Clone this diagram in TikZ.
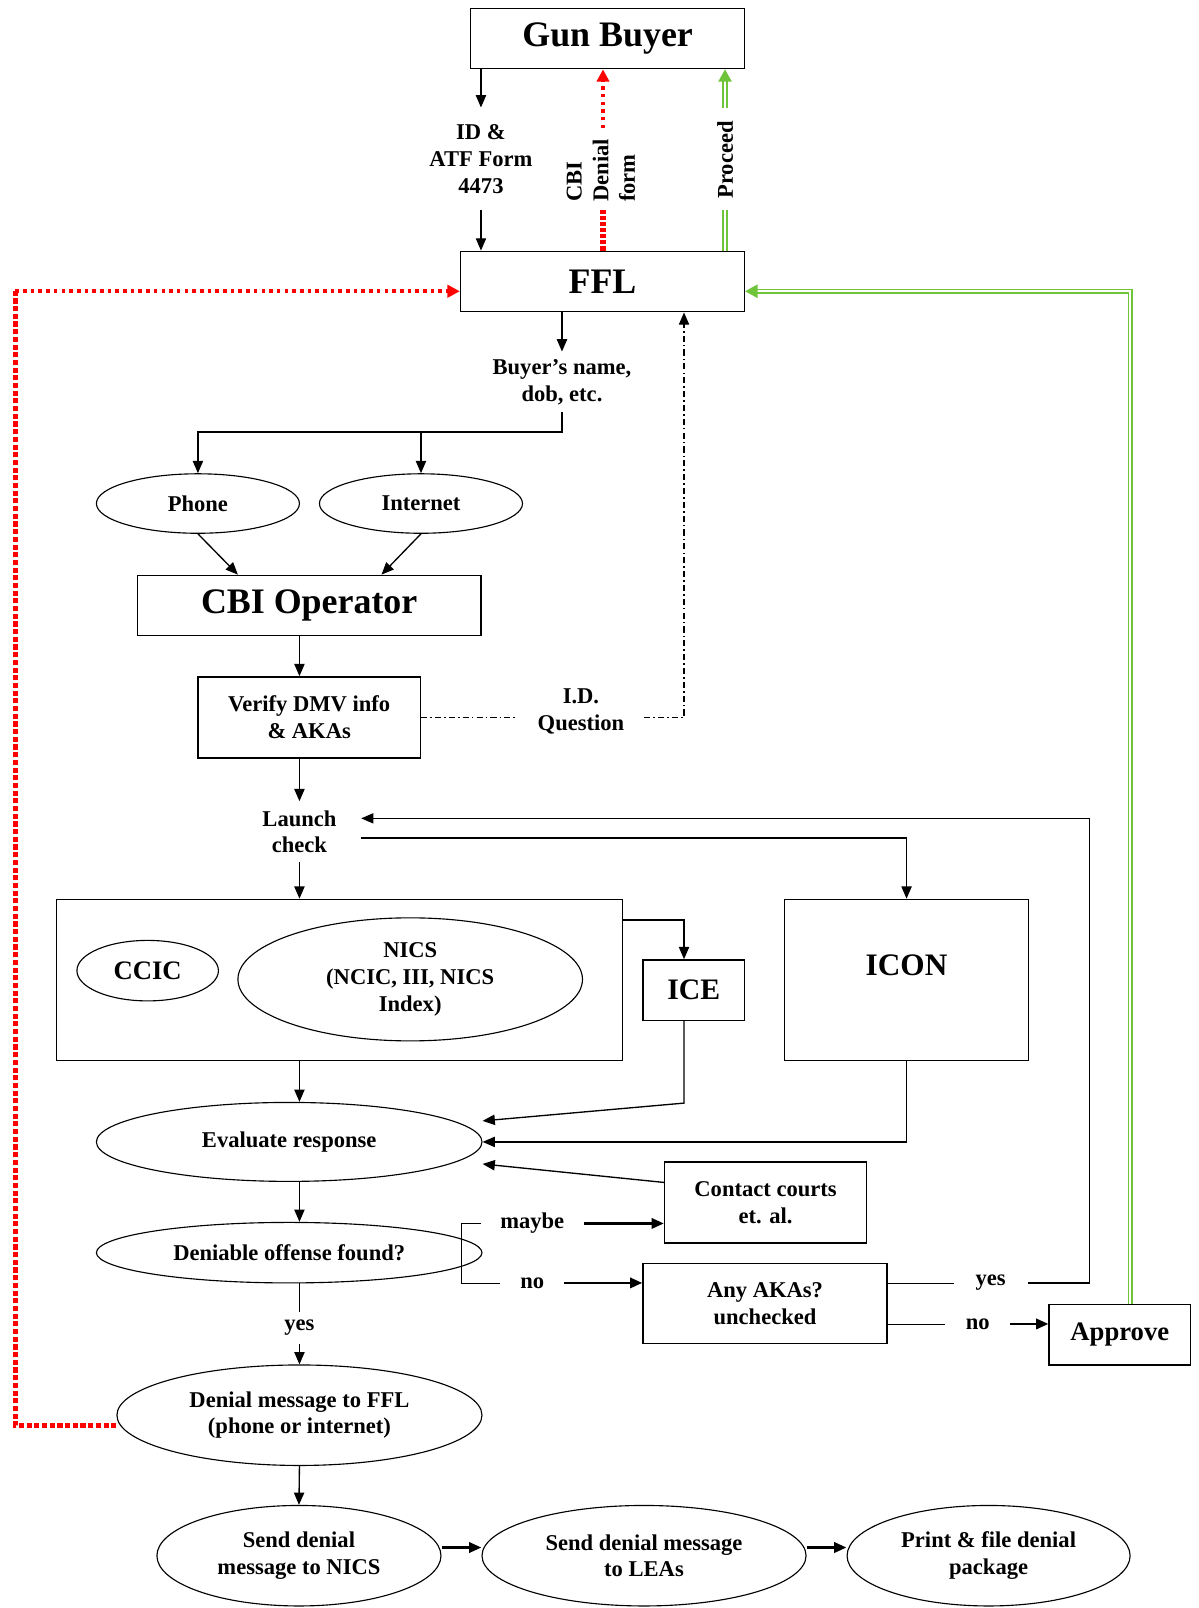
\documentclass[tikz,border=0pt]{standalone}
\usepackage{fontspec}
\setmainfont{Liberation Serif}
\usepackage{tikz}
\usetikzlibrary{arrows.meta, positioning, shapes.geometric, calc}
\definecolor{denyred}{RGB}{255,0,0}
\definecolor{okgreen}{RGB}{112,196,58}
\newcommand\smlfont{\fontsize{22}{26}\selectfont\bfseries}
\newcommand\lrgfont{\fontsize{35}{40}\selectfont\bfseries}
\newcommand\midfont{\fontsize{26}{30}\selectfont\bfseries}

\begin{document}
\begin{tikzpicture}[x=1pt, y=-1pt,
    box/.style={rectangle, draw, line width=1.3pt, inner sep=0pt, align=center, font=\smlfont},
    ell/.style={ellipse, draw, line width=1.1pt, inner sep=0pt, align=center, font=\smlfont},
    txt/.style={inner sep=0pt, align=center, font=\smlfont},
    arr/.style={-{Triangle[length=12pt,width=10pt]}, line width=1.3pt},
    fat/.style={arr, line width=2.6pt},
    dashdot/.style={line width=1.2pt, dash pattern=on 6pt off 3pt on 1.5pt off 3pt},
    reddot/.style={draw=denyred, line width=3.5pt, dash pattern=on 3.5pt off 4pt},
    redfat/.style={draw=denyred, line width=5.5pt, dash pattern=on 5pt off 2.5pt},
    redtip/.style={-{Triangle[length=12pt,width=12pt]}},
    grn/.style={draw=okgreen, double=white, double distance=2pt, line width=1.5pt},
    grntip/.style={-{Triangle[length=12pt,width=13pt]}}]
    \useasboundingbox (0,0) rectangle (1169,1568);
    \node[box, minimum width=267pt, minimum height=59pt, font=\lrgfont] (buyer) at (592.5,37.5) {Gun Buyer};
    \node[box, minimum width=277pt, minimum height=59pt, font=\lrgfont] (ffl) at (587.5,274.5) {FFL};
    \node[txt, minimum height=100pt] (idform) at (469,155) {ID \&\\ATF Form\\4473};
    \node[txt, rotate=90, anchor=west, align=left] (cbiform) at (586,197) {CBI\\Denial\\form};
    \node[txt, rotate=90] (proceed) at (707,156) {Proceed};
    \coordinate (redlow) at (588,205); \coordinate (redhigh) at (588,125);
    \coordinate (grnlow) at (707,205); \coordinate (grnhigh) at (707,105);
    \coordinate (redleft) at (15,284);
    \node[txt, minimum height=59pt] (bname) at (548,372.5) {Buyer’s name,\\dob, etc.};
    \node[ell, minimum width=198pt, minimum height=58pt] (phone) at (193,491) {Phone};
    \node[ell, minimum width=198pt, minimum height=58pt] (inet) at (410.5,491) {Internet};
    \node[box, minimum width=335pt, minimum height=59pt, font=\lrgfont] (cbi) at (301.5,590.5) {CBI Operator};
    \node[box, minimum width=217pt, minimum height=79pt] (verify) at (301.5,699.5) {Verify DMV info\\\& AKAs};
    \node[txt, minimum width=123pt] (idq) at (566.5,694) {I.D.\\Question};
    \node[txt, minimum width=120pt, minimum height=59pt] (launch) at (292,811) {Launch\\check};
    \node[box, minimum width=552pt, minimum height=157pt] (checks) at (331,955.5) {};
    \node[ell, minimum width=138pt, minimum height=59pt, font=\midfont] (ccic) at (144,946.5) {CCIC};
    \node[ell, minimum width=336pt, minimum height=120pt] (nics) at (400,955) {NICS\\(NCIC, III, NICS\\Index)};
    \node[box, minimum width=99pt, minimum height=59pt, font=\fontsize{29}{33}\selectfont\bfseries] (ice) at (676.5,965.5) {ICE};
    \node[box, minimum width=238pt, minimum height=157pt] (icon) at (884,955.5) {};
    \node[txt, font=\fontsize{30.5}{35}\selectfont\bfseries] (icontext) at (884,941) {ICON};
    \node[ell, minimum width=376pt, minimum height=77pt] (eval) at (282,1113.5) {Evaluate response};
    \node[box, minimum width=197pt, minimum height=79pt] (courts) at (746.5,1172.5) {Contact courts\\et. al.};
    \node[ell, minimum width=376pt, minimum height=59pt] (deny) at (282,1221.5) {Deniable offense found?};
    \node[txt, minimum width=100pt] (maybe) at (519,1193) {maybe};
    \node[txt, minimum width=62pt] (nolbl) at (519,1251) {no};
    \node[box, minimum width=238pt, minimum height=78pt] (aka) at (746,1271) {Any AKAs?\\unchecked};
    \node[txt, minimum width=72pt] (akayes) at (966,1251) {yes};
    \node[txt, minimum width=63pt] (akano) at (953.5,1291) {no};
    \node[box, minimum width=138pt, minimum height=59pt, font=\midfont] (approve) at (1092,1301.5) {Approve};
    \node[txt, minimum height=30pt] (dyes) at (292,1295) {yes};
    \node[ell, minimum width=356pt, minimum height=98pt] (denial) at (292,1380) {Denial message to FFL\\(phone or internet)};
    \node[ell, minimum width=277pt, minimum height=98pt] (sendnics) at (291.5,1517) {Send denial\\message to NICS};
    \node[ell, minimum width=316pt, minimum height=98pt] (sendlea) at (628,1517) {Send denial message\\to LEAs};
    \node[ell, minimum width=276pt, minimum height=98pt] (printpkg) at (964,1517) {Print \& file denial\\package};
    \draw[arr] (buyer.south -| idform) -- (idform.north); \draw[arr] (idform.south) -- (ffl.north -| idform);
    \draw[redfat, dash pattern=on 4pt off 2pt] (ffl.north -| redlow) -- (redlow); \draw[reddot, redtip] (redhigh) -- (buyer.south -| redhigh);
    \draw[grn] (ffl.north -| grnlow) -- (grnlow); \draw[grn, grntip] (grnhigh) -- (buyer.south -| grnhigh);
    \draw[arr] (ffl.south -| bname) -- (bname.north);
    \draw[arr] (bname.south) -- ++(0,19) -| (phone.north); \draw[arr] (bname.south) -- ++(0,19) -| (inet.north);
    \draw[arr] (phone.south) -- ([xshift=-69.5pt]cbi.north); \draw[arr] (inet.south) -- ([xshift=70.5pt]cbi.north);
    \draw[arr] (cbi.south -| launch) -- (verify.north -| launch); \draw[arr] (verify.south -| launch) -- (launch.north);
    \draw[dashdot] (verify.east) -- (verify.east -| idq.west);
    \draw[dashdot, arr] (idq.east |- verify.east) -| ([xshift=79.5pt]ffl.south);
    \draw[arr] (launch.south) -- (checks.north -| launch);
    \draw[arr] ([yshift=-6pt]launch.east) -| (icon.north);
    \draw[arr] ([yshift=58.5pt]checks.east) -| ([xshift=-9.5pt]ice.north);
    \draw[arr] (checks.south -| launch) -- (eval.north -| launch);
    \draw[arr] ([xshift=-9.5pt]ice.south) -- ++(0,80) -- ([yshift=20.5pt]eval.east);
    \draw[arr] (icon.south) |- (eval.east);
    \draw[arr] ([yshift=19.5pt]courts.west) -- ([yshift=-21.5pt]eval.east);
    \draw[arr] (eval.south -| launch) -- (deny.north -| launch);
    \draw (maybe.west) -- ++(-19,0) |- (nolbl.west);
    \draw[fat] (maybe.east) -- (courts.west |- maybe.east); \draw[fat] (nolbl.east) -- (aka.west |- nolbl.east);
    \draw ([yshift=20pt]aka.east) -- (akayes.west);
    \draw[arr] (akayes.east) -- ++(60,0) |- ([yshift=13pt]launch.east);
    \draw ([yshift=-20pt]aka.east) -- (akano.west); \draw[fat] (akano.east) -- (approve.west |- akano.east);
    \draw[grn, grntip] ([xshift=10pt]approve.north) |- ([yshift=-9.5pt]ffl.east);
    \draw (deny.south -| dyes) -- (dyes.north); \draw[arr] (dyes.south) -- (denial.north);
    \draw[redfat] ([yshift=-10pt]denial.west) -| (redleft);
    \draw[reddot, redtip] (redleft) -- ([yshift=-9.5pt]ffl.west);
    \draw[arr] (denial.south) -- (sendnics.north);
    \draw[fat] ([yshift=8pt]sendnics.east) -- ([yshift=8pt]sendlea.west); \draw[fat] ([yshift=8pt]sendlea.east) -- ([yshift=8pt]printpkg.west);
\end{tikzpicture}
\end{document}
